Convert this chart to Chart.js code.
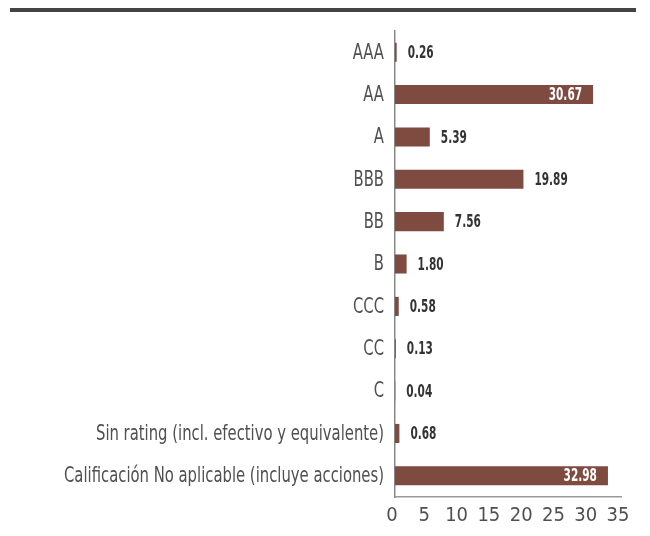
<!DOCTYPE html>
<html>
<head>
<meta charset="utf-8">
<script src="https://cdn.jsdelivr.net/npm/chart.js@4"></script>
<style>
  body { margin: 0; background: #fff; }
  #wrap { position: relative; width: 650px; height: 536px; }
  #topline { position: absolute; left: 10px; top: 8px; width: 626px; height: 4px; background: #444; }
  canvas { position: absolute; left: 0; top: 0; }
</style>
</head>
<body>
<div id="wrap">
  <canvas id="chart" width="650" height="536"></canvas>
  <div id="topline"></div>
</div>
<script>
// categories and values
const ratings = ['AAA', 'AA', 'A', 'BBB', 'BB', 'B', 'CCC', 'CC', 'C',
    'Sin rating (incl. efectivo y equivalente)',
    'Calificación No aplicable (incluye acciones)'];
const weights = [0.26, 30.67, 5.39, 19.89, 7.56, 1.80, 0.58, 0.13, 0.04, 0.68, 32.98];
const xTicks = [0, 5, 10, 15, 20, 25, 30, 35];

const FONT = '"DejaVu Sans Condensed", "Liberation Sans Narrow", sans-serif';

// category names drawn squeezed, to get the narrow look of the original
const catLabels = {
    id: 'catLabels',
    afterDraw(chart) {
        const ctx = chart.ctx;
        const yScale = chart.scales.y;
        ctx.save();
        ctx.font = '20.5px ' + FONT;
        const longest = ctx.measureText(ratings[ratings.length - 1]).width;
        const sx = 320 / longest;
        ctx.fillStyle = '#505050';
        ctx.textAlign = 'right';
        ctx.textBaseline = 'middle';
        ratings.forEach((name, i) => {
            const y = yScale.getPixelForTick(i);
            ctx.save();
            ctx.translate(yScale.right - 11, y + 1);
            ctx.scale(sx, 1);
            ctx.fillText(name, 0, 0);
            ctx.restore();
        });
        ctx.restore();
    }
};

// value labels: white inside long bars, dark outside short ones
const valueLabels = {
    id: 'valueLabels',
    afterDatasetsDraw(chart) {
        const ctx = chart.ctx;
        const meta = chart.getDatasetMeta(0);
        ctx.save();
        ctx.font = 'bold 18px ' + FONT;
        const sx = 26 / ctx.measureText('0.26').width;
        ctx.textBaseline = 'middle';
        meta.data.forEach((bar, i) => {
            const v = weights[i];
            const txt = v.toFixed(2);
            ctx.save();
            if (v > 25) {
                ctx.fillStyle = '#ffffff';
                ctx.textAlign = 'right';
                ctx.translate(bar.x - 11, bar.y + 1);
            } else {
                ctx.fillStyle = '#333333';
                ctx.textAlign = 'left';
                ctx.translate(bar.x + 11, bar.y + 1);
            }
            ctx.scale(sx, 1);
            ctx.fillText(txt, 0, 0);
            ctx.restore();
        });
        ctx.restore();
    }
};

const ctx = document.getElementById('chart').getContext('2d');
const chart = new Chart(ctx, {
    type: 'bar',
    data: {
        labels: ratings,
        datasets: [{
            data: weights,
            backgroundColor: '#7f4a40',
            borderWidth: 0,
            barPercentage: 0.45,
            categoryPercentage: 1
        }]
    },
    options: {
        indexAxis: 'y',
        responsive: false,
        animation: false,
        layout: { padding: { top: 31, right: 29, left: 0, bottom: 0 } },
        plugins: { legend: { display: false }, tooltip: { enabled: false } },
        scales: {
            x: {
                min: 0,
                max: 35,
                afterBuildTicks: (s) => { s.ticks = xTicks.map(v => ({ value: v })); },
                grid: { display: false, drawTicks: false },
                border: { color: '#999', width: 1.5 },
                ticks: { color: '#505050', font: { family: FONT, size: 20 }, padding: 7, labelOffset: -3 },
                afterFit: (s) => { s.height = 39; }
            },
            y: {
                grid: { display: false, drawTicks: false },
                border: { color: '#888', width: 1.5 },
                ticks: { display: false, autoSkip: false },
                afterFit: (s) => { s.width = 395; }
            }
        }
    },
    plugins: [valueLabels, catLabels]
});
</script>
</body>
</html>
